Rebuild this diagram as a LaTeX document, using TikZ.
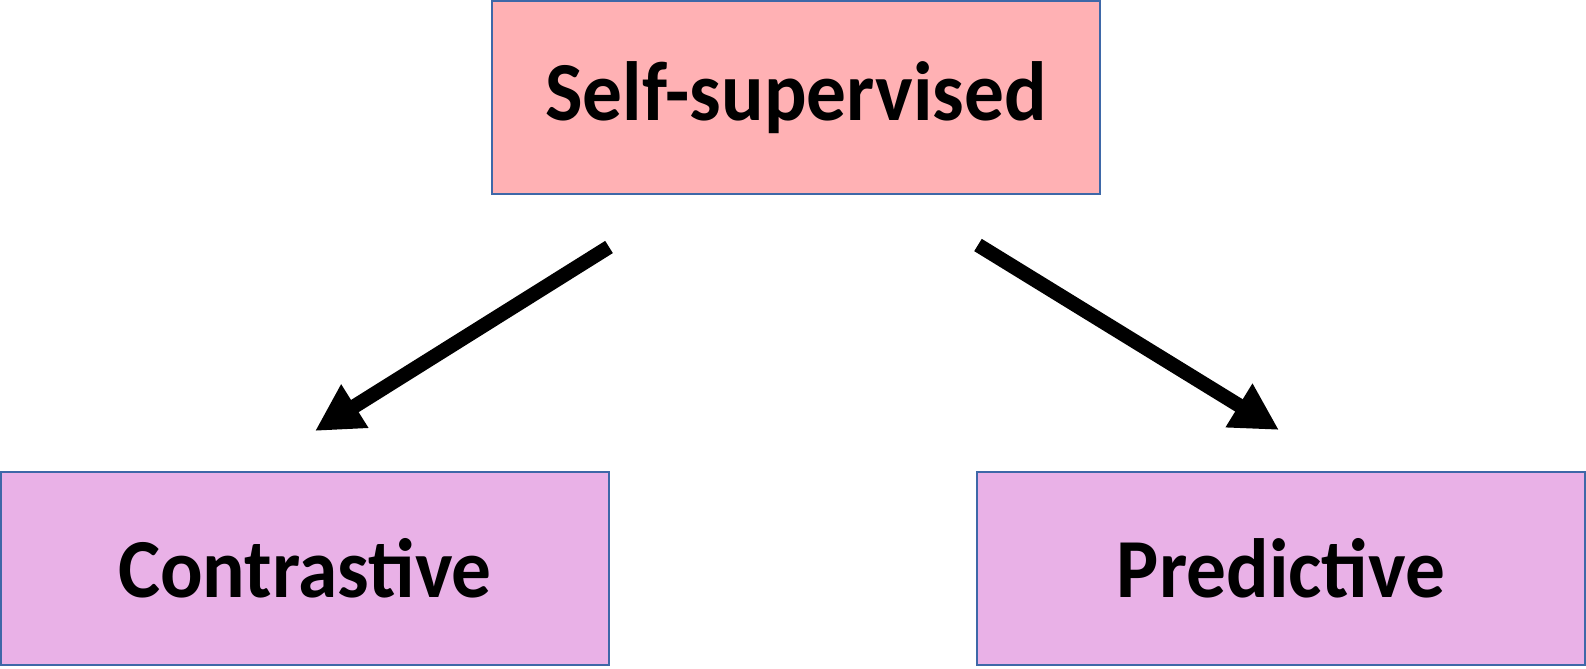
\documentclass[tikz,border=0pt]{standalone}
\usepackage{fontspec}
\setmainfont{Carlito}
\newfontfamily\boxfont[FakeStretch=0.945]{Carlito}
\usetikzlibrary{arrows.meta}
\definecolor{rootfill}{HTML}{FFB1B4}
\definecolor{leaffill}{HTML}{E9B1E7}
\definecolor{boxline}{HTML}{3E68A8}
\begin{document}
\begin{tikzpicture}[x=0.5pt,y=-0.5pt,
  box/.style={draw=boxline,line width=1.2pt,inner sep=0pt,
    minimum width=304pt,minimum height=96.5pt,
    font=\boxfont\fontsize{42}{50}\selectfont\bfseries},
  link/.style={line width=7.2pt,-{Triangle[length=23.5pt,width=24pt]}}]
  \useasboundingbox (0,0) rectangle (1586,669);
  % categories
  \node[box,fill=rootfill] (self) at (796,97.5) {\raisebox{-2pt}{Self-supervised}};
  \node[box,fill=leaffill] (contr) at (305,568.5) {Contrastive};
  \node[box,fill=leaffill] (pred) at (1281,568.5) {Predictive};
  % arrow end points between the boxes
  \coordinate (ls) at (609,247);
  \coordinate (le) at (315,431);
  \coordinate (rs) at (978,245);
  \coordinate (re) at (1279,430);
  \draw[link] (ls) -- (le);
  \draw[link] (rs) -- (re);
\end{tikzpicture}
\end{document}
